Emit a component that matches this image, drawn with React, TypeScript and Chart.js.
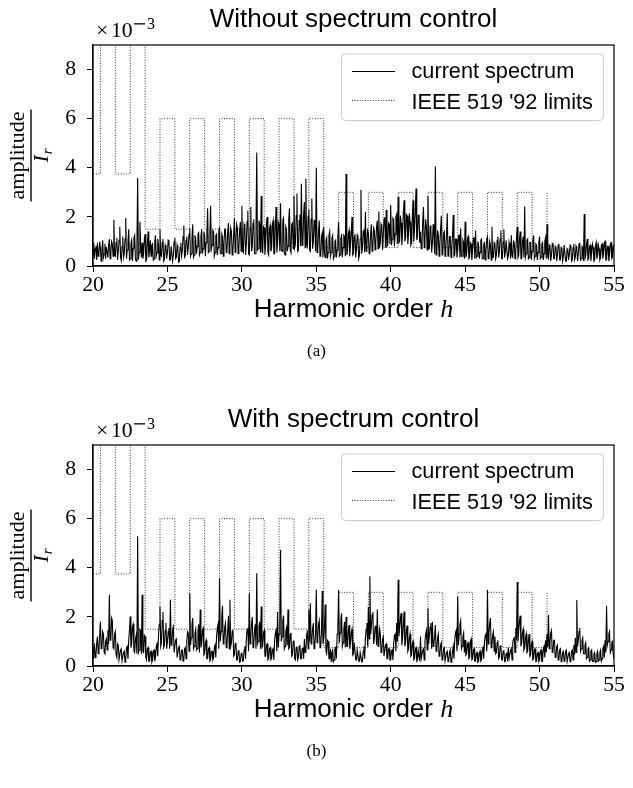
import React, { useEffect, useRef } from 'react';
import { Chart, registerables } from 'chart.js';

Chart.register(...registerables);

// ---- data (amplitude / I_r, in units of 1e-3), one row per harmonic order, sampled every 0.05 ----
const H_START = 20;
const H_STEP = 0.05;
const X_TICKS = [20, 25, 30, 35, 40, 45, 50, 55];
const Y_TICKS = [0, 2, 4, 6, 8];

const LIMIT_ORDERS = [20, 21, 22, 23, 24, 25, 26, 27, 28, 29, 30, 31, 32, 33, 34, 35,
  36, 37, 38, 39, 40, 41, 42, 43, 44, 45, 46, 47, 48, 49, 50, 51];
const LIMIT_VALUES = [3.75, 15, 3.75, 15, 1.5, 6, 1.5, 6, 1.5, 6, 1.5, 6, 1.5, 6, 1.5, 6,
  0.75, 3, 0.75, 3, 0.75, 3, 0.75, 3, 0.75, 3, 0.75, 3, 0.75, 3, 0.75, 3];

const SPECTRUM_WITHOUT = [
  0.45, 0.95, 0.30, 0.70, 0.82, 0.25, 0.95, 0.40, 0.52, 1.00, 0.70, 0.20, 0.65, 1.05, 0.35, 0.48, 0.90, 0.30, 0.78, 0.55,
  0.35, 0.85, 1.10, 0.30, 0.55, 1.00, 0.90, 0.40, 1.88, 0.45, 0.40, 0.95, 1.15, 0.25, 0.60, 1.05, 1.60, 0.35, 0.22, 0.80,
  1.20, 0.35, 0.50, 1.10, 1.95, 0.30, 0.65, 1.00, 1.50, 0.25, 0.30, 0.90, 1.05, 0.20, 0.72, 1.15, 1.25, 0.30, 0.20, 0.75,
  3.58, 0.25, 0.55, 1.80, 1.00, 0.35, 0.95, 0.30, 0.48, 1.10, 1.30, 0.20, 0.25, 0.90, 1.40, 0.35, 0.60, 1.05, 0.40, 0.85,
  0.90, 0.25, 0.30, 1.00, 1.25, 0.40, 0.55, 1.10, 0.85, 0.25, 1.50, 0.45, 0.40, 0.95, 1.10, 0.20, 0.28, 0.85, 0.75, 0.30,
  0.55, 1.05, 1.00, 0.25, 0.25, 0.80, 0.80, 0.20, 0.45, 1.00, 1.15, 0.30, 0.35, 0.85, 0.70, 0.15, 0.18, 0.75, 0.95, 0.40,
  0.60, 1.20, 1.65, 0.35, 0.40, 1.05, 1.20, 0.45, 0.75, 1.30, 1.55, 0.40, 0.50, 1.15, 1.70, 0.35, 0.45, 1.25, 1.10, 0.50,
  0.80, 1.30, 1.35, 0.45, 0.55, 1.20, 1.50, 0.50, 0.70, 1.40, 1.25, 0.40, 0.95, 1.35, 2.35, 0.55, 0.60, 1.20, 2.45, 0.70,
  0.85, 1.45, 1.40, 0.40, 0.55, 1.25, 1.30, 0.45, 0.75, 1.35, 1.60, 0.50, 0.50, 1.30, 1.20, 0.40, 0.95, 1.50, 1.50, 0.55,
  0.65, 1.40, 1.75, 0.50, 0.90, 1.55, 1.40, 0.45, 0.60, 1.30, 1.95, 0.55, 1.00, 1.70, 1.55, 0.50, 0.70, 1.45, 1.80, 0.60,
  2.45, 0.60, 0.55, 1.70, 1.60, 0.45, 0.90, 1.80, 2.25, 0.50, 0.45, 1.55, 2.40, 0.60, 0.80, 1.75, 1.90, 0.50, 0.50, 1.45,
  4.62, 0.65, 0.70, 1.85, 1.70, 0.55, 2.85, 0.60, 0.55, 1.60, 1.55, 0.45, 0.95, 1.75, 2.00, 0.55, 0.45, 1.50, 1.65, 0.60,
  0.75, 1.70, 1.85, 0.50, 0.50, 1.65, 2.40, 0.55, 0.95, 1.80, 1.70, 0.60, 2.55, 0.65, 0.60, 1.85, 1.95, 0.55, 0.45, 1.60,
  1.50, 0.60, 0.80, 1.90, 2.35, 0.65, 0.55, 1.70, 1.75, 0.70, 2.85, 0.75, 0.90, 2.05, 2.95, 0.60, 0.65, 1.85, 2.10, 0.80,
  3.35, 0.85, 0.95, 2.10, 2.60, 0.75, 3.55, 0.90, 0.80, 2.00, 2.30, 0.65, 0.60, 1.90, 2.75, 0.70, 1.00, 1.85, 1.80, 0.60,
  4.00, 0.55, 0.65, 1.40, 1.85, 0.40, 0.45, 1.20, 1.35, 0.35, 1.60, 0.50, 0.35, 1.05, 1.15, 0.30, 0.55, 1.25, 1.40, 0.40,
  0.55, 1.15, 1.25, 0.30, 0.40, 1.00, 1.05, 0.35, 0.65, 1.20, 1.80, 0.40, 0.45, 1.10, 1.30, 0.35, 0.75, 1.25, 1.20, 0.40,
  3.75, 0.45, 0.60, 1.30, 1.45, 0.40, 0.85, 1.35, 2.00, 0.45, 0.50, 1.20, 1.30, 0.35, 0.70, 1.25, 1.15, 0.30, 0.45, 1.10,
  3.10, 0.50, 0.75, 1.40, 1.50, 0.55, 2.20, 0.60, 0.90, 1.45, 1.35, 0.50, 0.55, 1.30, 1.70, 0.60, 0.80, 1.55, 1.45, 0.65,
  1.00, 1.60, 1.85, 0.70, 2.22, 0.75, 0.95, 1.70, 1.60, 0.65, 1.25, 1.90, 2.00, 0.75, 2.28, 0.80, 0.85, 1.75, 1.70, 0.90,
  2.48, 0.85, 1.10, 1.95, 1.90, 0.80, 1.30, 2.00, 2.10, 0.90, 2.81, 0.95, 1.00, 2.05, 1.75, 0.85, 1.40, 2.20, 2.68, 1.00,
  1.15, 2.10, 2.05, 0.90, 1.35, 2.15, 1.80, 0.85, 0.95, 1.95, 2.68, 1.00, 1.50, 2.20, 3.16, 1.05, 1.20, 2.05, 2.10, 0.95,
  1.40, 0.70, 0.85, 1.80, 2.40, 0.75, 1.10, 1.90, 1.60, 0.65, 2.85, 0.70, 0.70, 1.65, 1.45, 0.55, 0.95, 1.70, 1.30, 0.50,
  4.05, 0.45, 0.60, 1.45, 1.25, 0.40, 0.85, 1.50, 2.05, 0.45, 0.55, 1.35, 1.40, 0.40, 0.75, 1.30, 2.15, 0.40, 0.50, 1.20,
  1.20, 0.35, 0.70, 1.25, 2.08, 0.40, 0.45, 1.10, 1.10, 0.35, 0.65, 1.20, 1.25, 0.35, 1.54, 0.40, 0.40, 1.05, 0.95, 0.30,
  1.80, 0.35, 0.50, 1.10, 1.20, 0.30, 0.35, 0.95, 0.90, 0.25, 0.60, 1.15, 1.15, 0.30, 1.45, 0.35, 0.40, 1.00, 0.85, 0.30,
  0.55, 1.05, 1.10, 0.30, 0.30, 0.90, 0.95, 0.25, 0.65, 1.10, 1.20, 0.30, 0.40, 1.00, 0.85, 0.25, 1.60, 0.35, 0.35, 0.95,
  0.90, 0.30, 0.45, 1.05, 1.20, 0.35, 0.60, 1.10, 1.45, 0.30, 0.30, 0.95, 1.50, 0.35, 0.55, 1.05, 1.05, 0.30, 0.40, 0.95,
  0.75, 0.30, 1.25, 0.40, 0.35, 1.00, 0.95, 0.30, 0.60, 1.15, 1.60, 0.35, 0.45, 1.10, 1.40, 0.30, 0.30, 1.00, 1.20, 0.35,
  2.42, 0.35, 0.50, 1.05, 1.10, 0.30, 0.35, 0.95, 0.95, 0.25, 0.60, 1.05, 1.25, 0.30, 0.40, 0.90, 0.85, 0.25, 0.55, 0.95,
  1.20, 0.30, 0.35, 0.90, 0.95, 0.25, 0.50, 1.00, 1.15, 0.30, 1.70, 0.35, 0.30, 0.85, 0.80, 0.20, 0.45, 0.90, 0.95, 0.30,
  0.30, 0.80, 0.75, 0.20, 0.45, 0.85, 0.90, 0.25, 0.25, 0.75, 0.70, 0.20, 0.40, 0.85, 0.85, 0.20, 0.20, 0.70, 0.65, 0.25,
  0.50, 0.85, 0.80, 0.20, 0.25, 0.75, 0.90, 0.25, 0.35, 0.80, 0.70, 0.20, 0.45, 0.90, 0.95, 0.25, 0.30, 0.80, 0.75, 0.20,
  2.12, 0.30, 0.40, 0.85, 1.10, 0.25, 0.30, 0.80, 0.85, 0.20, 0.55, 0.90, 0.75, 0.20, 0.25, 0.80, 0.95, 0.30, 0.45, 0.85,
  0.70, 0.25, 0.35, 0.85, 0.90, 0.30, 0.50, 0.95, 1.00, 0.25, 0.25, 0.80, 0.80, 0.20, 0.45, 0.90, 0.95, 0.30, 0.35, 0.85,
  0.60,
];

const SPECTRUM_WITH = [
  0.30, 0.75, 0.85, 0.35, 0.45, 0.95, 1.20, 0.50, 0.60, 1.30, 1.81, 0.70, 0.75, 1.40, 1.30, 0.55, 0.50, 1.00, 1.10, 0.65,
  1.45, 0.90, 2.90, 1.05, 1.10, 1.95, 1.85, 0.75, 0.70, 1.30, 1.40, 0.45, 0.35, 0.90, 0.85, 0.25, 0.25, 0.65, 0.70, 0.20,
  0.20, 0.55, 0.60, 0.15, 0.30, 0.75, 0.80, 0.30, 1.05, 1.45, 2.02, 0.75, 0.95, 1.60, 1.70, 0.60, 0.55, 1.10, 1.25, 0.50,
  5.28, 0.55, 0.65, 1.50, 1.45, 0.50, 2.90, 0.60, 0.55, 1.25, 1.20, 0.35, 0.25, 0.70, 0.75, 0.20, 0.20, 0.55, 0.60, 0.15,
  0.25, 0.60, 0.65, 0.20, 0.35, 0.80, 0.90, 0.40, 1.25, 1.70, 2.42, 0.80, 0.95, 1.85, 2.20, 0.75, 0.85, 1.45, 1.75, 0.70,
  1.00, 1.40, 1.55, 0.70, 2.70, 0.85, 0.90, 1.50, 1.60, 0.55, 0.55, 1.05, 1.10, 0.35, 0.35, 0.75, 0.80, 0.25, 0.30, 0.65,
  0.65, 0.20, 0.25, 0.70, 0.75, 0.30, 1.00, 1.40, 1.35, 0.60, 2.97, 0.85, 1.15, 1.70, 1.95, 0.70, 0.80, 1.35, 1.50, 0.65,
  0.70, 1.40, 1.70, 0.55, 2.30, 0.75, 0.90, 1.45, 1.55, 0.45, 0.50, 0.95, 1.05, 0.30, 0.30, 0.70, 0.75, 0.20, 0.25, 0.60,
  0.60, 0.25, 0.35, 0.75, 0.85, 0.35, 1.20, 1.55, 1.70, 0.70, 3.58, 1.00, 1.40, 2.05, 2.45, 0.90, 1.05, 1.60, 1.75, 0.75,
  0.85, 1.50, 2.05, 0.70, 2.70, 0.80, 0.95, 1.40, 1.50, 0.40, 0.45, 0.90, 0.95, 0.25, 0.25, 0.60, 0.65, 0.15, 0.18, 0.50,
  0.55, 0.20, 0.22, 0.65, 0.80, 0.30, 1.10, 1.45, 1.55, 0.60, 2.96, 0.90, 1.15, 1.75, 2.00, 0.75, 0.90, 1.45, 1.70, 0.70,
  3.78, 0.90, 1.00, 1.60, 1.80, 0.70, 2.42, 0.75, 0.80, 1.35, 1.45, 0.40, 0.40, 0.85, 0.90, 0.25, 0.30, 0.70, 0.75, 0.25,
  0.30, 0.65, 0.70, 0.25, 1.05, 1.35, 1.45, 0.60, 2.20, 0.75, 1.30, 1.70, 4.73, 1.00, 1.20, 1.85, 2.05, 0.70, 0.80, 1.40,
  1.55, 0.85, 2.30, 0.70, 0.75, 1.30, 1.35, 0.40, 0.45, 1.00, 1.05, 0.30, 0.25, 0.75, 0.80, 0.25, 0.35, 0.80, 0.85, 0.30,
  0.30, 0.70, 0.75, 0.30, 1.10, 0.55, 0.60, 1.25, 1.45, 0.70, 2.30, 1.00, 2.55, 0.90, 1.05, 1.50, 1.75, 0.70, 0.85, 1.30,
  3.10, 0.95, 1.15, 1.70, 1.85, 0.75, 0.80, 1.40, 3.05, 0.90, 1.10, 1.60, 2.50, 0.60, 0.50, 1.05, 1.00, 0.30, 0.30, 0.70,
  0.20, 0.55, 0.65, 0.18, 0.25, 0.70, 0.75, 0.30, 1.30, 1.60, 3.10, 0.95, 1.35, 1.90, 2.15, 0.80, 0.95, 1.50, 1.80, 0.75,
  2.00, 0.80, 0.80, 1.45, 1.67, 0.70, 0.95, 1.35, 1.50, 0.45, 0.50, 0.95, 0.95, 0.25, 0.25, 0.65, 0.65, 0.20, 0.20, 0.55,
  0.55, 0.18, 0.18, 0.60, 0.80, 0.30, 1.15, 1.50, 1.75, 0.80, 2.40, 1.10, 3.65, 1.30, 1.60, 2.10, 2.20, 0.90, 1.10, 1.60,
  1.65, 0.85, 2.30, 0.80, 0.90, 1.50, 1.33, 0.55, 0.60, 1.10, 1.20, 0.40, 0.40, 0.85, 0.90, 0.30, 0.30, 0.70, 0.70, 0.25,
  0.25, 0.60, 0.65, 0.25, 0.90, 1.25, 1.30, 0.60, 1.75, 1.00, 3.51, 1.20, 1.55, 1.95, 2.15, 0.85, 1.15, 1.70, 2.22, 0.80,
  0.95, 1.45, 1.65, 0.60, 0.70, 1.15, 1.30, 0.40, 0.45, 0.90, 1.00, 0.25, 0.30, 0.70, 0.75, 0.20, 0.25, 0.60, 0.60, 0.20,
  1.20, 0.30, 0.30, 0.65, 0.70, 0.25, 1.00, 1.30, 1.45, 0.65, 2.35, 0.90, 1.25, 1.60, 1.75, 0.70, 1.80, 0.80, 0.90, 1.20,
  1.67, 0.60, 0.70, 1.15, 1.30, 0.40, 0.45, 0.85, 0.95, 0.25, 0.30, 0.70, 0.75, 0.20, 0.20, 0.55, 0.60, 0.18, 0.25, 0.55,
  0.65, 0.15, 0.18, 0.60, 0.80, 0.30, 1.05, 1.35, 1.45, 0.60, 2.83, 0.85, 1.30, 1.70, 1.85, 0.70, 0.80, 1.20, 1.35, 0.55,
  1.06, 0.45, 0.50, 0.90, 0.95, 0.30, 0.35, 1.00, 1.10, 0.25, 0.28, 0.65, 0.70, 0.20, 0.20, 0.50, 0.55, 0.15, 0.18, 0.50,
  0.60, 0.20, 0.25, 0.65, 0.75, 0.30, 1.00, 1.25, 1.35, 0.60, 3.10, 0.90, 1.35, 1.75, 1.95, 0.75, 0.85, 1.25, 1.40, 0.60,
  1.20, 0.50, 0.55, 0.95, 1.05, 0.30, 0.35, 0.80, 0.85, 0.25, 0.25, 0.60, 0.65, 0.18, 0.20, 0.50, 0.55, 0.20, 0.75, 0.30,
  0.30, 0.65, 0.70, 0.25, 0.95, 1.10, 1.15, 0.55, 1.55, 1.05, 3.42, 1.00, 1.45, 1.85, 2.05, 0.80, 0.95, 1.35, 1.50, 0.65,
  0.75, 1.15, 1.30, 0.55, 0.60, 1.10, 1.30, 0.40, 0.45, 0.90, 1.00, 0.25, 0.30, 0.65, 0.70, 0.18, 0.20, 0.50, 0.55, 0.18,
  0.25, 0.60, 0.65, 0.18, 0.20, 0.70, 0.80, 0.35, 1.05, 0.55, 1.30, 0.75, 2.08, 0.70, 0.95, 1.35, 1.45, 0.55, 0.60, 1.05,
  1.05, 0.35, 0.40, 0.80, 0.85, 0.25, 0.28, 0.65, 0.70, 0.18, 0.20, 0.55, 0.60, 0.20, 0.25, 0.60, 0.65, 0.18, 0.18, 0.50,
  0.55, 0.18, 0.22, 0.60, 0.65, 0.25, 0.85, 0.45, 1.15, 0.55, 2.69, 0.80, 1.05, 1.40, 1.55, 0.60, 0.70, 1.05, 1.15, 0.50,
  0.50, 0.85, 0.95, 0.30, 0.35, 0.70, 0.75, 0.20, 0.25, 0.60, 0.65, 0.18, 0.20, 0.50, 0.55, 0.15, 0.18, 0.50, 0.60, 0.20,
  0.25, 0.55, 0.65, 0.20, 0.30, 0.70, 0.80, 0.35, 1.05, 0.55, 2.45, 0.85, 1.00, 1.30, 1.40, 0.55, 0.65, 0.95, 1.00, 0.45,
  0.30,
];

const PANELS = [
  { title: 'Without spectrum control', caption: '(a)', values: SPECTRUM_WITHOUT, top: 0, height: 400 },
  { title: 'With spectrum control', caption: '(b)', values: SPECTRUM_WITH, top: 400, height: 388 },
];

// ---- layout constants (pixels inside each canvas) ----
const AREA = { left: 93, right: 614, top: 45, bottom: 266 };
const Y_AXIS_W = 40;
const X_AXIS_H = 40;
const SERIF = '"Liberation Serif", "Times New Roman", serif';
const SANS = '"Liberation Sans", Arial, sans-serif';

function roundRect(ctx: CanvasRenderingContext2D, x: number, y: number, w: number, h: number, r: number) {
  ctx.beginPath();
  ctx.moveTo(x + r, y);
  ctx.lineTo(x + w - r, y);
  ctx.quadraticCurveTo(x + w, y, x + w, y + r);
  ctx.lineTo(x + w, y + h - r);
  ctx.quadraticCurveTo(x + w, y + h, x + w - r, y + h);
  ctx.lineTo(x + r, y + h);
  ctx.quadraticCurveTo(x, y + h, x, y + h - r);
  ctx.lineTo(x, y + r);
  ctx.quadraticCurveTo(x, y, x + r, y);
  ctx.closePath();
}

function makeTextPlugin(title: string, caption: string) {
  return {
    id: 'figureText',
    afterDraw(chart: any) {
      const ctx: CanvasRenderingContext2D = chart.ctx;
      const a = chart.chartArea;
      const cx = (a.left + a.right) / 2;
      ctx.save();
      // frame
      ctx.strokeStyle = '#000';
      ctx.lineWidth = 1.2;
      ctx.strokeRect(a.left, a.top, a.right - a.left, a.bottom - a.top);

      ctx.fillStyle = '#000';
      // title
      ctx.font = `26px ${SANS}`;
      ctx.textAlign = 'center';
      ctx.textBaseline = 'alphabetic';
      ctx.fillText(title, cx, 27);

      // offset text x10^-3
      ctx.textAlign = 'left';
      ctx.font = `21.7px ${SERIF}`;
      ctx.fillText('\u00d7', 96, 37);
      ctx.fillText('10', 111, 37);
      ctx.fillRect(134, 23.2, 11, 1.3);
      ctx.font = `16px ${SERIF}`;
      ctx.fillText('3', 147, 29);

      // legend
      const lx = 341.5, ly = 54, lw = 262, lh = 66.5;
      roundRect(ctx, lx, ly, lw, lh, 4);
      ctx.fillStyle = 'rgba(255,255,255,0.8)';
      ctx.fill();
      ctx.strokeStyle = '#cccccc';
      ctx.lineWidth = 1;
      ctx.stroke();
      ctx.strokeStyle = '#000';
      ctx.lineWidth = 1.2;
      ctx.beginPath();
      ctx.moveTo(352, 71.5);
      ctx.lineTo(395, 71.5);
      ctx.stroke();
      ctx.strokeStyle = '#333';
      ctx.lineWidth = 1;
      ctx.setLineDash([1, 1.6]);
      ctx.beginPath();
      ctx.moveTo(352, 100.5);
      ctx.lineTo(395, 100.5);
      ctx.stroke();
      ctx.setLineDash([]);
      ctx.fillStyle = '#000';
      ctx.font = `21.7px ${SANS}`;
      ctx.fillText('current spectrum', 411.5, 77.5);
      ctx.fillText("IEEE 519 '92 limits", 411.5, 108.5);

      // y label: amplitude / I_r (rotated fraction)
      ctx.save();
      ctx.translate(31, (a.top + a.bottom) / 2);
      ctx.rotate(-Math.PI / 2);
      ctx.font = `22px ${SERIF}`;
      ctx.textAlign = 'center';
      ctx.fillText('amplitude', 0, -7);
      ctx.fillRect(-46, -0.7, 92, 1.4);
      ctx.font = `italic 22px ${SERIF}`;
      const wI = ctx.measureText('I').width;
      ctx.font = `italic 15px ${SERIF}`;
      const wr = ctx.measureText('r').width;
      const start = -(wI + wr + 1) / 2;
      ctx.textAlign = 'left';
      ctx.font = `italic 22px ${SERIF}`;
      ctx.fillText('I', start, 17);
      ctx.font = `italic 15px ${SERIF}`;
      ctx.fillText('r', start + wI + 1, 21);
      ctx.restore();

      // x label
      ctx.font = `26px ${SANS}`;
      const part1 = 'Harmonic order ';
      const w1 = ctx.measureText(part1).width;
      ctx.font = `italic 26px ${SERIF}`;
      const w2 = ctx.measureText('h').width;
      const sx = cx - (w1 + w2) / 2;
      ctx.textAlign = 'left';
      ctx.font = `26px ${SANS}`;
      ctx.fillText(part1, sx, 317);
      ctx.font = `italic 26px ${SERIF}`;
      ctx.fillText('h', sx + w1, 317);

      // caption
      ctx.font = `17px ${SERIF}`;
      ctx.textAlign = 'center';
      ctx.fillText(caption, 316.5, 356);
      ctx.restore();
    },
  };
}

function Panel({ title, caption, values, top, height }: any) {
  const ref = useRef<HTMLCanvasElement | null>(null);
  useEffect(() => {
    if (!ref.current) return;
    const spectrum = values.map((v: number, i: number) => ({ x: H_START + i * H_STEP, y: v }));
    const limits = LIMIT_ORDERS.map((h, i) => ({ x: h - 0.5, y: LIMIT_VALUES[i] }));
    const tickFont = { family: SERIF, size: 21.7 };
    const chart = new Chart(ref.current, {
      type: 'line',
      data: {
        datasets: [
          {
            label: 'current spectrum',
            data: spectrum,
            borderColor: '#000',
            borderWidth: 1.1,
            pointRadius: 0,
            tension: 0,
          },
          {
            label: "IEEE 519 '92 limits",
            data: limits,
            borderColor: '#333',
            borderWidth: 1,
            borderDash: [1, 1.6],
            pointRadius: 0,
            stepped: true,
          },
        ],
      },
      options: {
        animation: false,
        responsive: false,
        devicePixelRatio: 1,
        layout: {
          padding: {
            left: AREA.left - Y_AXIS_W,
            right: 633 - AREA.right,
            top: AREA.top,
            bottom: height - AREA.bottom - X_AXIS_H,
          },
        },
        plugins: { legend: { display: false }, tooltip: { enabled: false }, title: { display: false } },
        scales: {
          x: {
            type: 'linear',
            min: 20,
            max: 55,
            afterBuildTicks: (s: any) => { s.ticks = X_TICKS.map((v) => ({ value: v })); },
            afterFit: (s: any) => { s.height = X_AXIS_H; s.paddingLeft = 0; s.paddingRight = 0; },
            grid: { display: true, drawOnChartArea: false, drawTicks: true, tickLength: 6, color: '#000', lineWidth: 1 },
            border: { display: true, color: '#000', width: 1.2 },
            ticks: { color: '#000', font: tickFont, padding: 0, maxRotation: 0, autoSkip: false },
          },
          y: {
            type: 'linear',
            min: 0,
            max: 9,
            afterBuildTicks: (s: any) => { s.ticks = Y_TICKS.map((v) => ({ value: v })); },
            afterFit: (s: any) => { s.width = Y_AXIS_W; s.paddingTop = 0; s.paddingBottom = 0; },
            grid: { display: true, drawOnChartArea: false, drawTicks: true, tickLength: 6, color: '#000', lineWidth: 1 },
            border: { display: true, color: '#000', width: 1.2 },
            ticks: { color: '#000', font: tickFont, padding: 11, autoSkip: false },
          },
        },
      } as any,
      plugins: [makeTextPlugin(title, caption)],
    });
    return () => chart.destroy();
  }, [title, caption, values, height]);
  return (
    <canvas
      ref={ref}
      width={633}
      height={height}
      style={{ position: 'absolute', left: 0, top, width: 633, height, display: 'block' }}
    />
  );
}

export default function App() {
  return (
    <div style={{ position: 'absolute', left: 0, top: 0, width: 633, height: 788, background: '#fff' }}>
      {PANELS.map((p) => (
        <Panel key={p.caption} {...p} />
      ))}
    </div>
  );
}
